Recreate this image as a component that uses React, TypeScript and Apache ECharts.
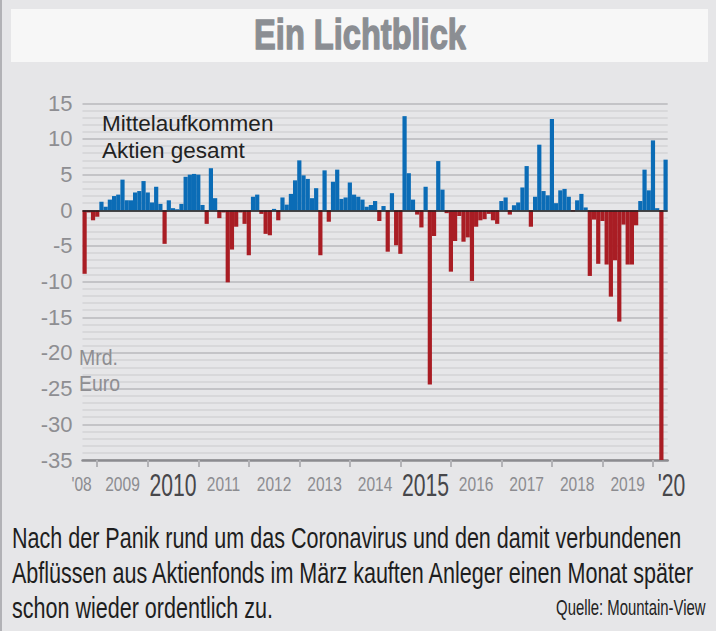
import React, { useEffect, useRef } from "react";
import * as echarts from "echarts";

// Monthly net flows, equity funds total (bn EUR), Oct 2008 – Apr 2020
const flows2008 = [-8.9, -0.3, -1.4];
const flows2009 = [-0.9, 1.2, 0.5, 1.5, 2.0, 2.2, 4.3, 1.4, 1.4, 2.5, 2.7, 4.1];
const flows2010 = [2.5, 1.1, 3.3, 0.9, -4.7, 1.4, 0.3, 0.15, 0.9, 4.7, 5.0, 5.1];
const flows2011 = [5.0, 0.75, -1.9, 5.9, 1.7, -1.1, -0.3, -10.1, -5.5, -2.3, -0.3, -1.9];
const flows2012 = [-6.3, 1.9, 2.2, -0.5, -3.3, -3.5, 0.2, -1.4, 1.8, 0.8, 2.3, 4.2];
const flows2013 = [7.0, 4.9, 4.4, 1.7, 3.1, -6.3, 5.6, -1.6, 4.0, 5.7, 1.6, 1.8];
const flows2014 = [3.9, 2.2, 1.9, 1.5, 0.5, 0.75, 1.3, -1.5, 0.6, -5.8, 2.4, -4.9];
const flows2015 = [-6.1, 13.2, 5.2, 1.5, -0.6, -2.4, 3.3, -24.4, -3.6, 6.9, 2.9, -0.4];
const flows2016 = [-8.6, -4.3, -0.8, -4.4, -3.8, -9.9, -2.3, -1.4, -1.25, -0.5, -1.4, -1.9];
const flows2017 = [1.3, 1.8, -0.6, 0.7, 1.1, 3.2, 6.2, -2.3, 1.9, 9.2, 2.7, 2.1];
const flows2018 = [12.8, 1.0, 2.8, 3.0, 1.9, -0.15, 1.4, 2.3, 0.4, -9.2, -1.3, -7.5];
const flows2019 = [-1.5, -7.6, -12.1, -7.0, -15.6, -2.0, -7.6, -7.6, -2.1, 1.3, 5.7, 2.8];
const flows2020 = [9.8, 0.3, -35.0, 7.1];

const flowsByYear: [number, number, number[]][] = [
  [2008, 10, flows2008],
  [2009, 1, flows2009],
  [2010, 1, flows2010],
  [2011, 1, flows2011],
  [2012, 1, flows2012],
  [2013, 1, flows2013],
  [2014, 1, flows2014],
  [2015, 1, flows2015],
  [2016, 1, flows2016],
  [2017, 1, flows2017],
  [2018, 1, flows2018],
  [2019, 1, flows2019],
  [2020, 1, flows2020],
];

// year label texts (placed mid-year, under July)
const yearLabels = ["'08", "2009", "2010", "2011", "2012", "2013", "2014", "2015", "2016", "2017", "2018", "2019", "'20"];
const labelYears = [2008, 2009, 2010, 2011, 2012, 2013, 2014, 2015, 2016, 2017, 2018, 2019, 2020];
const bigLabels = ["2010", "2015", "'20"];

const yMin = -35;
const yMax = 15;
const yStep = 5;

const titleText = "Ein Lichtblick";
const legendLines = ["Mittelaufkommen", "Aktien gesamt"];
const unitLines = ["Mrd.", "Euro"];
const captionLines = [
  "Nach der Panik rund um das Coronavirus und den damit verbundenen",
  "Abflüssen aus Aktienfonds im März kauften Anleger einen Monat später",
  "schon wieder ordentlich zu.",
];
const sourceText = "Quelle: Mountain-View";

const FONT = "'Liberation Sans', Arial, Helvetica, sans-serif";
const BLUE = "#0b6cb6";
const RED = "#a91d24";

function measure(text: string, size: number, weight = "normal"): number {
  const c = document.createElement("canvas").getContext("2d");
  if (!c) return text.length * size * 0.5;
  c.font = `${weight} ${size}px ${FONT}`;
  return c.measureText(text).width;
}

export default function App() {
  const ref = useRef<HTMLDivElement>(null);

  useEffect(() => {
    if (!ref.current) return;
    const chart = echarts.init(ref.current, undefined, { renderer: "svg" });

    const categories: string[] = [];
    const values: number[] = [];
    flowsByYear.forEach(([y, m0, arr]) => {
      arr.forEach((v, i) => {
        const m = m0 + i;
        categories.push(`${y}-${m < 10 ? "0" + m : m}`);
        values.push(v);
      });
    });
    const last = categories.length - 1;

    const titleScale = 212 / measure(titleText, 43, "bold");
    const legendScale = 171.6 / measure(legendLines[0], 22);
    const unitScale = 39 / measure(unitLines[0], 22);
    const captionScale = 669 / measure(captionLines[0], 30);
    const sourceScale = 149.5 / measure(sourceText, 22);
    const smallScale = 34.6 / measure("2009", 21);
    const bigScale = 47 / measure("2010", 31);

    const staticGraphics: any[] = [
      { type: "line", shape: { x1: 1, y1: 0, x2: 1, y2: 631 }, style: { stroke: "#b2b2b6", lineWidth: 2 } },
      { type: "rect", shape: { x: 11, y: 9, width: 697, height: 53 }, style: { fill: "#f7f7f7" } },
      {
        type: "text",
        x: 360,
        y: 34,
        scaleX: titleScale,
        style: {
          text: titleText,
          fontFamily: FONT,
          fontWeight: "bold",
          fontSize: 43,
          fill: "#8b8e93",
          stroke: "#8b8e93",
          lineWidth: 1.4,
          align: "center",
          verticalAlign: "middle",
        },
      },
      ...legendLines.map((t, i) => ({
        type: "text",
        x: 102,
        y: 124 + i * 27,
        z: 10,
        scaleX: legendScale,
        style: { text: t, fontFamily: FONT, fontSize: 22, fill: "#222", verticalAlign: "middle" },
      })),
      ...unitLines.map((t, i) => ({
        type: "text",
        x: 79,
        y: 357 + i * 26,
        z: 10,
        scaleX: unitScale,
        style: { text: t, fontFamily: FONT, fontSize: 22, fill: "#8e8e92", verticalAlign: "middle" },
      })),
      ...captionLines.map((t, i) => ({
        type: "text",
        x: 12,
        y: 538 + i * 35,
        scaleX: captionScale,
        style: { text: t, fontFamily: FONT, fontSize: 30, fill: "#1e1e1e", verticalAlign: "middle" },
      })),
      {
        type: "text",
        x: 705.5,
        y: 607,
        scaleX: sourceScale,
        style: {
          text: sourceText,
          fontFamily: FONT,
          fontSize: 22,
          fill: "#222",
          align: "right",
          verticalAlign: "middle",
        },
      },
    ];

    chart.setOption({
      animation: false,
      backgroundColor: "#e6e6e8",
      grid: { left: 82.5, right: 48.3, top: 103.3, bottom: 171, containLabel: false },
      xAxis: {
        type: "category",
        data: categories,
        boundaryGap: true,
        axisLine: { show: true, onZero: false, lineStyle: { color: "#8c8c90", width: 2.5 } },
        axisTick: {
          show: true,
          alignWithLabel: true,
          interval: (index: number, value: string) => value.endsWith("-01"),
          length: 7,
          lineStyle: { color: "#b3b3b7", width: 2 },
        },
        axisLabel: { show: false },
        splitLine: { show: false },
      },
      yAxis: {
        type: "value",
        min: yMin,
        max: yMax,
        interval: yStep,
        axisLine: { show: false },
        axisTick: { show: false },
        axisLabel: {
          margin: 10,
          fontFamily: FONT,
          fontSize: 22,
          color: "#8e8e92",
        },
        splitLine: { show: true, lineStyle: { color: "#c4c4c7", width: 2 } },
        minorTick: { show: false, splitNumber: 5 },
        minorSplitLine: { show: true, lineStyle: { color: "#d3d3d6", width: 1.5 } },
      },
      series: [
        {
          type: "bar",
          data: values.map((v) => ({ value: v, itemStyle: { color: v >= 0 ? BLUE : RED } })),
          barWidth: "100%",
          barCategoryGap: 0,
          silent: true,
          markLine: {
            silent: true,
            symbol: ["none", "none"],
            label: { show: false },
            lineStyle: { color: "#1c1c1c", width: 1.5, type: "solid" },
            data: [{ yAxis: 0 }],
          },
        },
      ],
      graphic: staticGraphics,
    });

    // year labels positioned through the category axis
    const labelGraphics = yearLabels.map((t, i) => {
      const y = labelYears[i];
      let cat = `${y}-07`;
      let shift = 0;
      if (i === 0) {
        cat = categories[0];
        shift = -3;
      } else if (i === yearLabels.length - 1) {
        cat = categories[last];
        shift = 6;
      }
      const px = chart.convertToPixel({ xAxisIndex: 0 }, cat) as number;
      const big = bigLabels.includes(t);
      return {
        type: "text",
        x: px + shift,
        y: big ? 485 : 484,
        scaleX: big ? bigScale : smallScale,
        style: {
          text: t,
          fontFamily: FONT,
          fontSize: big ? 31 : 21,
          fill: big ? "#47474b" : "#8c8c90",
          align: "center",
          verticalAlign: "middle",
        },
      };
    });

    chart.setOption({ graphic: [...staticGraphics, ...labelGraphics] });

    return () => chart.dispose();
  }, []);

  return (
    <div
      ref={ref}
      style={{ position: "absolute", left: 0, top: 0, width: 716, height: 631 }}
    />
  );
}
